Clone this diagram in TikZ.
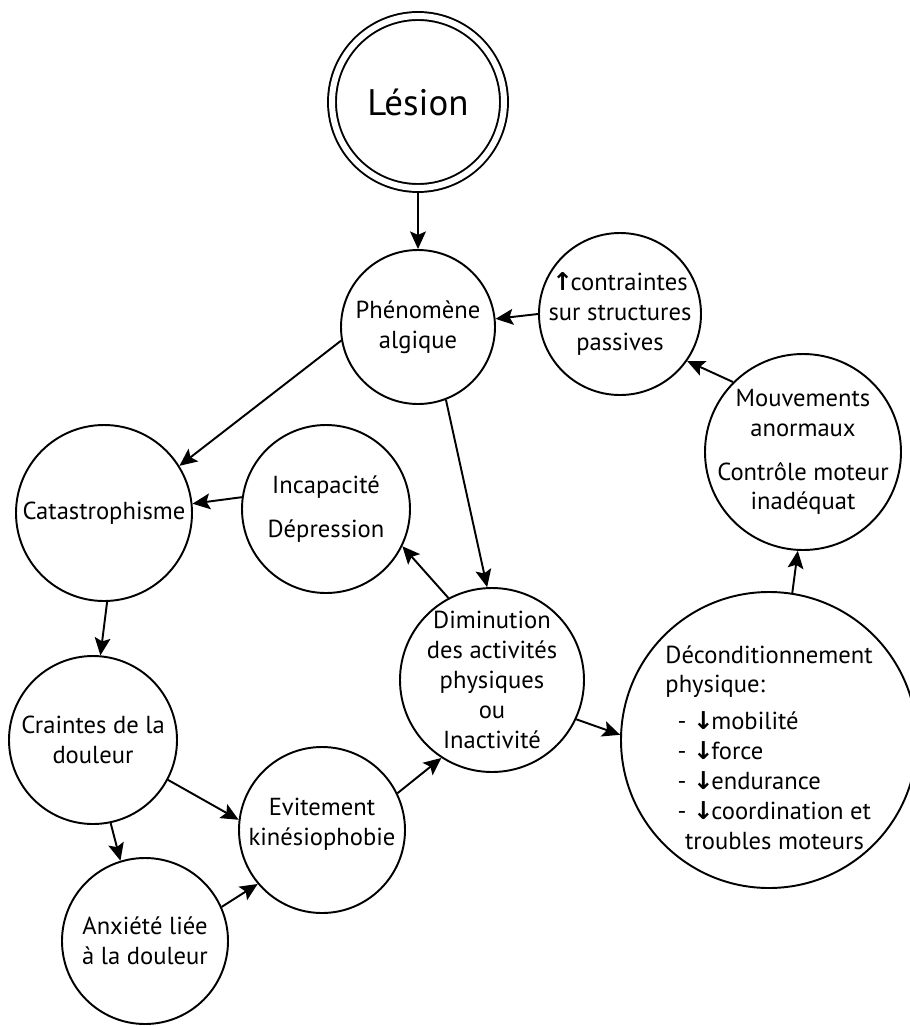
\documentclass[tikz,border=0pt]{standalone}
\usepackage{fontspec}
\setmainfont{PT Sans}
\newfontfamily\arrowfont{DejaVu Sans}
\usetikzlibrary{arrows.meta}

% small bold arrows used inside the bubbles
\newcommand{\uparr}{{\arrowfont\bfseries ↑}\kern-0.1em}
\newcommand{\dnarr}{{\arrowfont\bfseries ↓}\kern-0.1em}

\tikzset{
    bubble/.style={circle, draw, line width=1.1pt, minimum size=#1, inner sep=0pt},
    txt/.style={align=center, font=\fontsize{14}{17}\selectfont},
    link/.style={-{Stealth[length=10pt,width=9pt,inset=2pt]}, line width=1.1pt}
}

\begin{document}
\begin{tikzpicture}
    \fill[white] (0,0) rectangle (18.18,-20.52);
    \useasboundingbox (0,0) rectangle (18.18,-20.52);

    \node[bubble=3.44cm, double, double distance=0.12cm, outer sep=0.1cm,
        label={[font=\fontsize{21}{25}\selectfont]center:Lésion}] (lesion) at (8.36,-2.04) {};
    \node[bubble=3.08cm, label={[txt]center:Phénomène\\algique}] (phen) at (8.36,-6.54) {};
    \node[bubble=3.24cm, label={[txt]center:\uparr contraintes\\sur structures\\passives}] (contr) at (12.40,-6.28) {};
    \node[bubble=3.92cm, label={[txt]center:Mouvements\\anormaux\\[8pt]Contrôle moteur\\inadéquat}] (mouv) at (16.06,-9.04) {};
    \node[bubble=3.52cm, label={[txt]center:Catastrophisme}] (cata) at (2.08,-10.26) {};
    \node[bubble=3.36cm, label={[txt]center:Incapacité\\[8pt]Dépression}] (incap) at (6.52,-10.18) {};
    \node[bubble=3.68cm, label={[txt]center:Diminution\\des activités\\physiques\\ou\\Inactivité}] (dimin) at (9.84,-13.60) {};
    \node[bubble=5.92cm, label={[txt, align=left, yshift=-0.15cm]center:Déconditionnement\\physique:\\[4pt]
        \hspace*{0.5em}- \dnarr mobilité\\
        \hspace*{0.5em}- \dnarr force\\
        \hspace*{0.5em}- \dnarr endurance\\
        \hspace*{0.5em}- \dnarr coordination et\\
        \hspace*{0.8em}troubles moteurs}] (decond) at (15.38,-14.80) {};
    \node[bubble=3.36cm, label={[txt]center:Craintes de la\\douleur}] (craintes) at (1.86,-14.80) {};
    \node[bubble=3.32cm, label={[txt, yshift=0.12cm]center:Evitement\\kinésiophobie}] (evit) at (6.44,-16.60) {};
    \node[bubble=3.32cm, label={[txt]center:Anxiété liée\\à la douleur}] (anx) at (2.90,-18.82) {};

    \draw[link] (lesion.south) -- (phen.north);
    \draw[link] (contr.west) -- (phen.6);
    \draw[link] (mouv.135) -- (contr.-35);
    \draw[link] (decond.81) -- (mouv.-93);
    \draw[link] (phen.190) -- (cata.32);
    \draw[link] (incap.172) -- (cata.6);
    \draw[link] (dimin.118) -- (incap.-26);
    \draw[link] (phen.-69) -- (dimin.93);
    \draw[link] (cata.-88) -- (craintes.85);
    \draw[link] (craintes.-28) -- (evit.173);
    \draw[link] (craintes.-78) -- (anx.107);
    \draw[link] (anx.24) -- (evit.-140);
    \draw[link] (evit.26) -- (dimin.-123);
    \draw[link] (dimin.-25) -- (decond.178);
\end{tikzpicture}
\end{document}
